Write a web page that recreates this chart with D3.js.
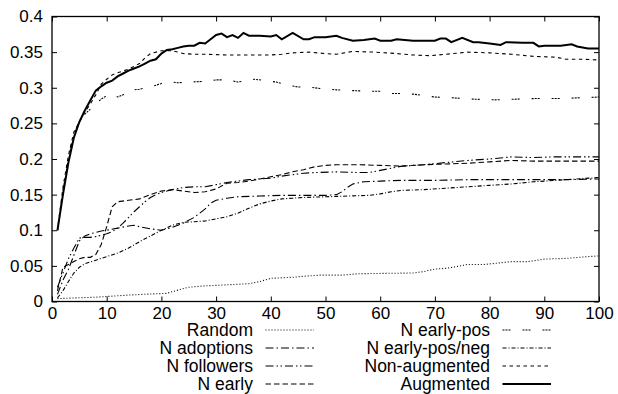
<!DOCTYPE html>
<html>
<head>
<meta charset="utf-8">
<script src="https://cdn.jsdelivr.net/npm/d3@7"></script>
<style>
  body { margin: 0; background: #fff; }
  svg text { font-family: "Liberation Sans", Arial, Helvetica, sans-serif; fill: #000; }
</style>
</head>
<body>
<svg id="chart" width="618" height="394"></svg>
<script>
// values: [x, value]
var randomPts = [[1,0.004],[4,0.005],[8,0.006],[10,0.007],[14,0.009],[18,0.0105],[21,0.0115],[23,0.016],[25,0.020],[28,0.022],[31,0.023],[36,0.025],[38,0.028],[40,0.0325],[44,0.034],[47,0.036],[49,0.037],[53,0.037],[56,0.039],[61,0.0395],[66,0.040],[68,0.042],[70,0.0455],[72,0.0465],[74,0.049],[76,0.052],[79,0.052],[81,0.0535],[84,0.056],[87,0.056],[90,0.0595],[94,0.0605],[98,0.063],[100,0.064]]

var adoptionsPts = [[1,0.01],[2,0.03],[3,0.045],[4,0.065],[5,0.085],[6,0.092],[7,0.095],[8,0.097],[9,0.099],[10,0.100],[12,0.103],[14,0.106],[15,0.107],[16,0.105],[18,0.102],[20,0.100],[22,0.104],[24,0.110],[26,0.118],[28,0.130],[29,0.138],[30,0.142],[32,0.145],[34,0.147],[38,0.148],[42,0.149],[46,0.149],[50,0.149],[52,0.150],[53,0.154],[54,0.160],[55,0.165],[57,0.168],[60,0.169],[64,0.170],[70,0.170],[76,0.171],[80,0.171],[86,0.171],[90,0.171],[94,0.171],[100,0.172]]

var followersPts = [[1,0.02],[2,0.04],[3,0.06],[4,0.075],[5,0.089],[6,0.090],[7,0.090],[8,0.091],[9,0.093],[10,0.095],[11,0.098],[12,0.103],[13,0.110],[14,0.118],[15,0.126],[16,0.133],[17,0.140],[18,0.146],[19,0.150],[20,0.153],[21,0.155],[22,0.157],[24,0.160],[26,0.161],[28,0.161],[30,0.164],[32,0.167],[34,0.169],[36,0.171],[38,0.172],[40,0.173],[42,0.176],[44,0.178],[46,0.180],[48,0.181],[52,0.182],[56,0.181],[58,0.181],[60,0.184],[62,0.187],[64,0.190],[68,0.192],[72,0.195],[76,0.198],[80,0.200],[84,0.203],[88,0.202],[92,0.203],[96,0.203],[100,0.203]]

var earlyPts = [[1,0.015],[2,0.048],[3,0.052],[4,0.056],[5,0.060],[6,0.062],[7,0.062],[8,0.066],[9,0.080],[10,0.105],[11,0.133],[12,0.140],[14,0.142],[16,0.144],[18,0.150],[20,0.155],[22,0.157],[24,0.155],[26,0.153],[28,0.154],[30,0.158],[32,0.166],[34,0.167],[36,0.169],[38,0.172],[40,0.175],[42,0.178],[44,0.182],[46,0.185],[48,0.189],[50,0.191],[52,0.192],[56,0.192],[60,0.191],[64,0.190],[68,0.192],[72,0.193],[76,0.194],[80,0.196],[84,0.198],[88,0.197],[92,0.197],[96,0.197],[100,0.197]]

var earlyPosPts = [[1,0.1],[2,0.155],[3,0.2],[4,0.235],[5,0.252],[6,0.263],[7,0.270],[8,0.278],[9,0.284],[10,0.289],[11,0.291],[12,0.287],[13,0.290],[14,0.296],[16,0.298],[18,0.301],[20,0.306],[22,0.308],[23,0.307],[25,0.308],[28,0.309],[30,0.311],[32,0.311],[34,0.308],[37,0.312],[39,0.310],[41,0.308],[43,0.304],[45,0.301],[47,0.301],[49,0.299],[52,0.297],[55,0.296],[58,0.295],[60,0.295],[62,0.292],[64,0.292],[66,0.291],[70,0.287],[73,0.286],[77,0.284],[81,0.283],[85,0.284],[89,0.285],[93,0.285],[97,0.286],[100,0.287]]

var earlyPosNegPts = [[1,0.005],[2,0.015],[3,0.028],[4,0.040],[5,0.048],[6,0.053],[8,0.058],[10,0.063],[12,0.068],[14,0.075],[16,0.084],[18,0.092],[20,0.100],[22,0.107],[24,0.111],[26,0.112],[28,0.113],[30,0.116],[32,0.119],[34,0.124],[36,0.131],[38,0.137],[40,0.141],[42,0.144],[44,0.145],[46,0.146],[50,0.147],[54,0.148],[58,0.149],[60,0.151],[62,0.154],[64,0.156],[68,0.157],[72,0.159],[76,0.161],[80,0.163],[84,0.165],[88,0.168],[92,0.170],[96,0.172],[100,0.174]]

var nonAugPts = [[1,0.1],[2,0.16],[3,0.205],[4,0.238],[5,0.252],[6,0.266],[7,0.277],[8,0.290],[9,0.305],[10,0.312],[11,0.318],[12,0.321],[14,0.326],[16,0.334],[17,0.342],[18,0.348],[20,0.352],[22,0.352],[24,0.348],[26,0.347],[28,0.347],[32,0.346],[36,0.346],[40,0.346],[42,0.347],[44,0.349],[47,0.350],[50,0.348],[52,0.347],[55,0.351],[59,0.350],[63,0.348],[66,0.346],[69,0.345],[72,0.347],[76,0.350],[80,0.349],[84,0.347],[88,0.344],[92,0.343],[94,0.340],[97,0.340],[100,0.339]]

var augPts = [[1,0.100],[2,0.150],[3,0.195],[4,0.230],[5,0.252],[6,0.268],[7,0.282],[8,0.296],[9,0.302],[10,0.307],[11,0.310],[12,0.316],[13,0.320],[14,0.324],[15,0.327],[16,0.330],[17,0.334],[18,0.338],[19,0.340],[20,0.348],[21,0.353],[22,0.354],[23,0.356],[24,0.358],[25,0.359],[26,0.359],[27,0.363],[28,0.362],[29,0.368],[30,0.374],[31,0.376],[32,0.371],[33,0.374],[34,0.370],[35,0.377],[36,0.373],[38,0.373],[40,0.372],[41,0.374],[42,0.368],[44,0.377],[46,0.368],[47,0.368],[48,0.371],[50,0.371],[52,0.373],[53,0.370],[55,0.366],[57,0.367],[59,0.369],[60,0.366],[62,0.366],[63,0.368],[66,0.366],[70,0.366],[71,0.369],[72,0.369],[73,0.364],[75,0.370],[77,0.364],[78,0.364],[80,0.362],[82,0.360],[83,0.364],[86,0.363],[88,0.363],[89,0.358],[90,0.359],[93,0.359],[95,0.361],[96,0.358],[98,0.355],[100,0.355]]

var xTicks = [0,10,20,30,40,50,60,70,80,90,100]
var yTicks = [0,0.05,0.1,0.15,0.2,0.25,0.3,0.35,0.4]

// name, points, dash pattern, width; legend column / row
var series = [
  {name: "Random", pts: randomPts, dash: "1,2", w: 1.1, col: 0, row: 0},
  {name: "N adoptions", pts: adoptionsPts, dash: "8,3,1.5,3", w: 1.1, col: 0, row: 1},
  {name: "N followers", pts: followersPts, dash: "8,3,1.5,2.5,1.5,3", w: 1.1, col: 0, row: 2},
  {name: "N early", pts: earlyPts, dash: "5.5,3", w: 1.1, col: 0, row: 3},
  {name: "N early-pos", pts: earlyPosPts, dash: "2,1,2,1,2,12", w: 1.1, col: 1, row: 0},
  {name: "N early-pos/neg", pts: earlyPosNegPts, dash: "4,2,1,2", w: 1.1, col: 1, row: 1},
  {name: "Non-augmented", pts: nonAugPts, dash: "3.5,3.5", w: 1.1, col: 1, row: 2},
  {name: "Augmented", pts: augPts, dash: null, w: 2, col: 1, row: 3}
]

var pLeft = 52, pRight = 599, pTop = 16.5, pBottom = 301.5
var svg = d3.select("#chart")

var x = d3.scaleLinear().domain([0, 100]).range([pLeft, pRight])
var y = d3.scaleLinear().domain([0, 0.4]).range([pBottom, pTop])

var fmtY = function(d) { return d === 0 ? "0" : String(+d.toFixed(2)) }

// inward ticks on all four sides
var tl = 5
svg.append("g").attr("transform", "translate(0," + pBottom + ")")
  .call(d3.axisBottom(x).tickValues(xTicks).tickSize(-tl).tickPadding(5).tickFormat(d3.format("d")))
svg.append("g").attr("transform", "translate(0," + pTop + ")")
  .call(d3.axisTop(x).tickValues(xTicks).tickSize(-tl).tickFormat(""))
svg.append("g").attr("transform", "translate(" + pLeft + ",0)")
  .call(d3.axisLeft(y).tickValues(yTicks).tickSize(-tl).tickPadding(9).tickFormat(fmtY))
svg.append("g").attr("transform", "translate(" + pRight + ",0)")
  .call(d3.axisRight(y).tickValues(yTicks).tickSize(-tl).tickFormat(""))

svg.selectAll(".domain").remove()
svg.selectAll(".tick line").attr("stroke", "#000").attr("stroke-width", 1)
svg.selectAll(".tick text").style("font-size", "17px").attr("fill", "#000")

svg.append("rect")
  .attr("x", pLeft).attr("y", pTop)
  .attr("width", pRight - pLeft).attr("height", pBottom - pTop)
  .attr("fill", "none").attr("stroke", "#000").attr("stroke-width", 1.3)

var line = d3.line()
  .x(function(d) { return x(d[0]) })
  .y(function(d) { return y(d[1]) })

svg.append("g").selectAll("path")
  .data(series)
  .enter().append("path")
  .attr("d", function(d) { return line(d.pts) })
  .attr("fill", "none")
  .attr("stroke", "#000")
  .attr("stroke-width", function(d) { return d.w })
  .attr("stroke-dasharray", function(d) { return d.dash })

// legend below the plot, two columns
var legX = [253, 490], rowY = [336, 354, 372, 390]
var leg = svg.append("g").selectAll("g")
  .data(series)
  .enter().append("g")

leg.append("text")
  .attr("x", function(d) { return legX[d.col] })
  .attr("y", function(d) { return rowY[d.row] })
  .attr("text-anchor", "end")
  .style("font-size", "17.5px")
  .text(function(d) { return d.name })

leg.append("line")
  .attr("x1", function(d) { return legX[d.col] + 12.5 })
  .attr("x2", function(d) { return legX[d.col] + 61 })
  .attr("y1", function(d) { return rowY[d.row] - 6 })
  .attr("y2", function(d) { return rowY[d.row] - 6 })
  .attr("stroke", "#000")
  .attr("stroke-width", function(d) { return d.w })
  .attr("stroke-dasharray", function(d) { return d.dash })
</script>
</body>
</html>
